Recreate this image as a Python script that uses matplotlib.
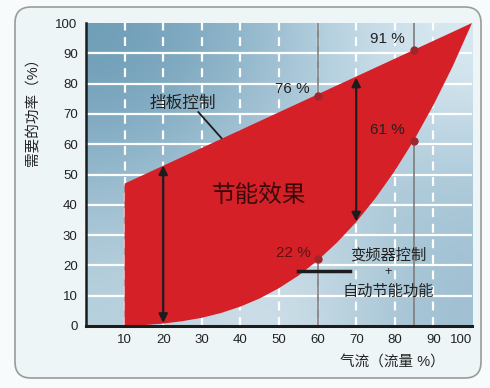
import numpy as np
import matplotlib
matplotlib.use("Agg")
import matplotlib.pyplot as plt
import matplotlib.patches as mpatches
from matplotlib.transforms import IdentityTransform
from matplotlib.colors import to_rgb

plt.rcParams['font.family'] = ['Liberation Sans', 'Noto Sans CJK SC', 'DejaVu Sans']

# damper control (挡板控制): straight line
damper_x = [10, 100]
damper_y = [47, 100]

# variable frequency drive (变频器控制): curve
vfd_x = [10, 15, 20, 25, 30, 35, 40, 45, 50, 55, 60, 65, 70, 75, 80, 85, 90, 95, 100]
vfd_y = [0.1, 0.3, 0.8, 1.6, 2.7, 4.3, 6.4, 9.1, 12.5, 16.6, 21.6, 27.5, 34.3,
         42.2, 51.2, 61.4, 72.9, 85.7, 100]

# marked points
mark_x = [60, 85, 85, 60]
mark_y = [76, 91, 61, 22]
mark_labels = ['76 %', '91 %', '61 %', '22 %']

# savings arrows (x, bottom, top)
arrow_x = [20, 70]
arrow_lo = [1.0, 34.5]
arrow_hi = [53, 82]

xticks = [10, 20, 30, 40, 50, 60, 70, 80, 90, 100]
yticks = [0, 10, 20, 30, 40, 50, 60, 70, 80, 90, 100]

fig = plt.figure(figsize=(4.9, 3.88), dpi=100)
fig.patch.set_facecolor('#f7fbfc')
frame = mpatches.FancyBboxPatch((15, 10), 466, 371,
                                boxstyle="round,pad=0,rounding_size=16",
                                transform=IdentityTransform(),
                                facecolor='#eef5f7', edgecolor='#9a9a9a', lw=1.2,
                                zorder=-5)
fig.patches.append(frame)

ax = fig.add_axes([86 / 490, 62 / 388, 386 / 490, 303 / 388])

# gradient background
grid_cols = [['#6e9db7', '#9dbfd2', '#dcebf3'],
             ['#93b8cc', '#bcd4e1', '#aac8d8'],
             ['#b7d0dd', '#dbe8ef', '#9ebfd1']]
img = np.array([[to_rgb(c) for c in row] for row in grid_cols])
ax.imshow(img, extent=(0, 100, 0, 100), origin='upper', interpolation='bicubic',
          aspect='auto', zorder=0)

# grid lines
for y in yticks[1:-1]:
    ax.axhline(y, color='white', lw=1.6, zorder=1)
for x in xticks[:-1]:
    ax.axvline(x, color='white', lw=1.6, ls=(0, (4, 3)), zorder=1)

# gray reference lines
for x in [60, 85]:
    ax.axvline(x, color='#7d7d7d', lw=1.2, zorder=1.5)

# savings region
poly_x = list(damper_x) + vfd_x[::-1]
poly_y = list(damper_y) + vfd_y[::-1]
ax.fill(poly_x, poly_y, color='#d52028', lw=0, zorder=2)

ax.plot(mark_x, mark_y, 'o', color='#a0262c', ms=5, zorder=3)

for x, lo, hi in zip(arrow_x, arrow_lo, arrow_hi):
    ax.annotate('', xy=(x, hi), xytext=(x, lo),
                arrowprops=dict(arrowstyle='<|-|>', color='#1c1c1c', lw=1.6,
                                mutation_scale=13, shrinkA=0, shrinkB=0),
                zorder=3)

label_pos = [(53.4, 78.2), (78, 94.7), (78, 64.7), (53.6, 24.1)]
label_col = ['#222222', '#222222', '#222222', '#5e1212']
for (tx, ty), s, c in zip(label_pos, mark_labels, label_col):
    ax.text(tx, ty, s, ha='center', va='center', fontsize=11, color=c, zorder=4)

ax.text(25, 73.6, '挡板控制', ha='center', va='center', fontsize=12, color='#222222', zorder=4)
ax.plot([29.1, 35.1], [70.6, 62], color='#1c1c1c', lw=1.3, zorder=4)
ax.text(44.7, 42.9, '节能效果', ha='center', va='center', fontsize=17, color='#3a0a0a', zorder=4)
ax.text(78.2, 23.4, '变频器控制', ha='center', va='center', fontsize=11, color='#222222', zorder=4)
ax.text(78.2, 17.8, '+', ha='center', va='center', fontsize=9, color='#222222', zorder=4)
ax.text(78.2, 11.2, '自动节能功能', ha='center', va='center', fontsize=11, color='#222222', zorder=4)
ax.plot([54.8, 68.3], [18.2, 18.2], color='#1c1c1c', lw=2.5, zorder=4)

ax.set_xlim(0, 100)
ax.set_ylim(0, 100)
ax.set_xticks(xticks)
ax.set_yticks(yticks)
ax.tick_params(length=0, labelsize=9.5, labelcolor='#222222', pad=6)
ax.get_xticklabels()[-1].set_ha('right')
for s in ['top', 'right']:
    ax.spines[s].set_visible(False)
ax.spines['left'].set_linewidth(1.8)
ax.spines['bottom'].set_linewidth(2.2)
ax.spines['left'].set_color('#1c1c1c')
ax.spines['bottom'].set_color('#1c1c1c')

fig.text(33 / 490, 1 - 108 / 388, '需要的功率（%）', rotation=90, ha='center', va='center',
         fontsize=10.5, color='#222222')
fig.text(392 / 490, 1 - 363 / 388, '气流（流量 %）', ha='center', va='center',
         fontsize=10.5, color='#222222')

fig.savefig('out.png', dpi=100)
